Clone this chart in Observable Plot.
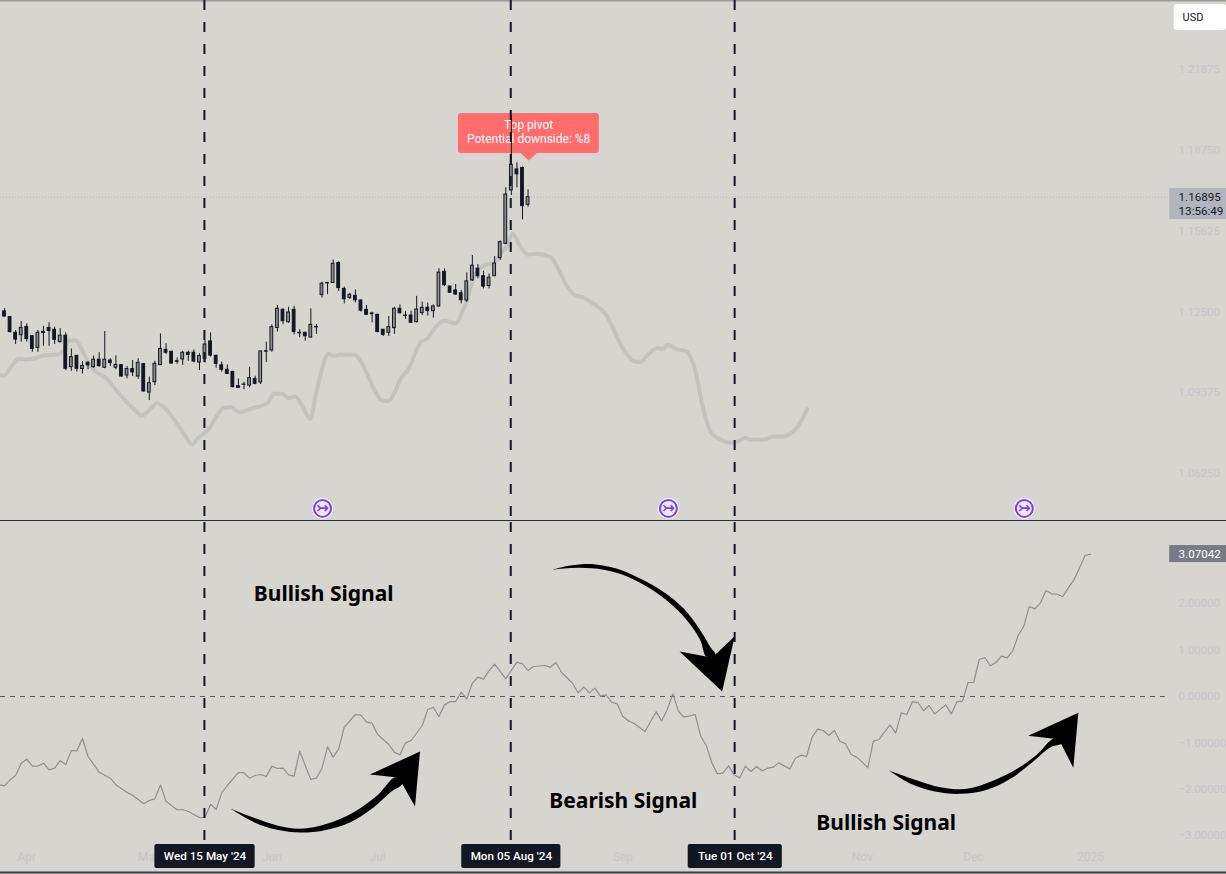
<!DOCTYPE html>
<html>
<head>
<meta charset="utf-8">
<script src="https://cdn.jsdelivr.net/npm/d3@7"></script>
<script src="https://cdn.jsdelivr.net/npm/@observablehq/plot@0.6"></script>
<style>
html,body{margin:0;padding:0;background:#d6d5d0;overflow:hidden}
svg{display:block}
</style>
</head>
<body>
<div id="top"></div>
<div id="bottom"></div>
<script>
// ---- candles (one entry per trading bar, bar index = position in the array)
const opens = [1.1248,1.1226,1.1165,1.1156,1.1188,1.1152,1.1107,1.1169,1.1184,1.1177,
1.1129,1.1154,1.1032,1.1076,1.1025,1.1049,1.1032,1.1061,1.1030,1.1058,
1.1030,1.1040,1.1000,1.1025,1.0996,1.1044,1.0934,1.0974,1.1040,1.1099,
1.1092,1.1055,1.1062,1.1088,1.1088,1.1050,1.1065,1.1132,1.1076,1.1039,
1.1022,1.1014,1.0959,1.0964,1.0961,1.0986,1.0973,1.1092,1.1097,1.1184,
1.1254,1.1206,1.1254,1.1165,1.1165,1.1147,1.1186,1.1311,1.1356,1.1358,
1.1435,1.1335,1.1300,1.1308,1.1290,1.1254,1.1240,1.1235,1.1177,1.1165,
1.1183,1.1258,1.1232,1.1232,1.1206,1.1241,1.1262,1.1249,1.1267,1.1401,
1.1344,1.1329,1.1318,1.1290,1.1368,1.1413,1.1384,1.1346,1.1384,1.1454,
1.1509,1.1716,1.1797,1.1803,1.1660];
const closes = [1.1228,1.1168,1.1139,1.1184,1.1141,1.1103,1.1165,1.1164,1.1172,1.1138,
1.1154,1.1026,1.1071,1.1026,1.1037,1.1039,1.1061,1.1036,1.1061,1.1048,
1.1041,1.0996,1.1025,1.1012,1.1049,1.0938,1.0970,1.1045,1.1103,1.1088,
1.1046,1.1053,1.1088,1.1079,1.1054,1.1075,1.1120,1.1077,1.1045,1.1022,
1.1006,1.0955,1.0952,1.0965,1.0990,1.0968,1.1093,1.1094,1.1187,1.1258,
1.1210,1.1244,1.1168,1.1163,1.1152,1.1196,1.1188,1.1355,1.1358,1.1432,
1.1338,1.1295,1.1312,1.1291,1.1251,1.1235,1.1237,1.1168,1.1157,1.1187,
1.1258,1.1241,1.1230,1.1204,1.1255,1.1262,1.1249,1.1267,1.1398,1.1349,
1.1320,1.1313,1.1291,1.1364,1.1425,1.1384,1.1344,1.1378,1.1433,1.1516,
1.1700,1.1815,1.1778,1.1655,1.16895];
const highs = [1.1258,1.1226,1.1174,1.1209,1.1200,1.1155,1.1174,1.1190,1.1204,1.1187,
1.1181,1.1165,1.1103,1.1077,1.1054,1.1054,1.1075,1.1088,1.1170,1.1065,
1.1076,1.1041,1.1035,1.1058,1.1065,1.1045,1.0994,1.1055,1.1161,1.1123,
1.1093,1.1068,1.1093,1.1094,1.1099,1.1084,1.1135,1.1165,1.1079,1.1052,
1.1041,1.1016,1.0987,1.0974,1.1032,1.0997,1.1094,1.1129,1.1196,1.1271,
1.1258,1.1264,1.1268,1.1177,1.1168,1.1258,1.1197,1.1361,1.1358,1.1447,
1.1440,1.1342,1.1318,1.1331,1.1293,1.1271,1.1245,1.1236,1.1178,1.1228,
1.1264,1.1273,1.1248,1.1249,1.1306,1.1284,1.1280,1.1273,1.1413,1.1413,
1.1346,1.1352,1.1329,1.1397,1.1464,1.1429,1.1404,1.1393,1.1460,1.1520,
1.1726,1.2010,1.1823,1.1806,1.1718];
const lows = [1.1226,1.1164,1.1120,1.1129,1.1129,1.1090,1.1090,1.1113,1.1113,1.1120,
1.1126,1.1019,1.1016,1.1013,1.1006,1.1022,1.1028,1.1032,1.1026,1.1035,
1.1022,1.0994,1.0987,1.0996,1.0985,1.0936,1.0903,1.0961,1.1039,1.1081,
1.1044,1.1043,1.1039,1.1055,1.1049,1.1019,1.1048,1.1071,1.1028,1.1013,
1.1005,1.0952,1.0951,1.0945,1.0952,1.0964,1.0965,1.1050,1.1090,1.1168,
1.1196,1.1202,1.1157,1.1146,1.1133,1.1144,1.1159,1.1299,1.1313,1.1357,
1.1325,1.1277,1.1294,1.1281,1.1245,1.1232,1.1204,1.1165,1.1151,1.1151,
1.1159,1.1237,1.1217,1.1201,1.1204,1.1232,1.1230,1.1222,1.1264,1.1344,
1.1317,1.1311,1.1277,1.1282,1.1364,1.1374,1.1335,1.1335,1.1383,1.1445,
1.1507,1.1696,1.1726,1.1602,1.1651];

// ---- grey moving-average line of the price pane (bar index, price)
const maBar = [-0.7,-0.1,1.1,2.6,3.8,5.3,7.1,9.5,10.7,11.55,12.75,13.65,15,16,18.4,19.9,21.7,23.2,24.7,25.6,27.4,28.6,30.4,32.2,33.7,34.6,36.7,38.2,39.4,40.6,42.1,44.2,47.2,48.4,49.9,51.05,52.2,53.4,54.9,55.8,57.3,58.05,59.1,60.3,
62.7,63.9,65.1,66.6,67.8,69,70.2,71.1,72.6,73.8,74.8,75.9,77.4,78.9,81,81.9,82.8,84.3,86.05,87.85,89.05,90.25,91.2,92.35,93.85,95.6,98,
99.1,100.9,102.5,103.7,105.8,107.9,110.9,113,114.1,115.7,117.2,118.1,119.1,120.8,122.1,124.1,125.25,127.05,130.65,132.1,133,133.9,136.3,138.1,139.6,142.3,144.1];
const maVal = [1.1000,1.1000,1.1032,1.1065,1.1062,1.1066,1.1077,1.1081,1.1094,1.1135,1.1135,1.1110,1.1052,1.1022,1.0987,1.0948,1.0903,1.0871,1.0845,1.0858,1.0893,1.0878,1.0832,1.0774,1.0733,1.0755,1.0794,1.0845,1.0875,1.0878,1.0858,1.0871,1.0893,1.0929,1.0929,1.0912,1.0919,1.0884,1.0832,1.0916,1.1045,1.1084,1.1075,1.1081,
1.1081,1.1058,1.1006,1.0936,1.0903,1.0901,1.0942,1.0987,1.1026,1.1090,1.1131,1.1142,1.1187,1.1213,1.1202,1.1232,1.1277,1.1380,1.1426,1.1435,1.1471,1.1503,1.1549,1.1509,1.1468,1.1471,1.1458,
1.1426,1.1348,1.1310,1.1303,1.1277,1.1239,1.1110,1.1055,1.1052,1.1084,1.1106,1.1103,1.1119,1.1101,1.1097,1.1013,1.0890,1.0774,1.0740,1.0749,1.0759,1.0751,1.0752,1.0764,1.0764,1.0800,1.0869];

// ---- oscillator of the lower pane (bar index, value)
const oscBar = [-1,0,1,2,3,4,5,6,7,8,9,10,11,12,13,14,15,17,19,20,22,23,25,26,27,28,29,31,32,33,35,36,37,38,39,40,42,43,44,45,46,47,48,49,50,51,52,53,54,55,56,57,58,59,60,61,63,64,65,66,67,69,70,71,72,73,75,
76,77,78,79,80,81,82,83,84,85,86,87,88,90,92,93,94,95,97,98,99,100,102,103,104,105,106,107,108,109,110,111,112,113,115,117,118,119,120,121,122,124,125,126,127,128,129,130,131,132,133,134,135,136,137,138,139,141,142,143,144,145,146,147,
148,149,150,151,152,153,154,155,156,157,158,159,160,161,162,163,164,165,166,167,169,170,171,172,173,174,175,176,177,178,179,180,181,182,183,184,185,186,187,188,189,190,191,192,193,194,195];
const oscVal = [-1.897,-1.925,-1.796,-1.703,-1.437,-1.351,-1.501,-1.501,-1.437,-1.580,-1.545,-1.379,-1.466,-1.164,-1.171,-0.905,-1.293,-1.631,-1.760,-1.904,-2.069,-2.126,-2.313,-2.241,-2.205,-1.904,-2.256,-2.443,-2.435,-2.478,-2.608,-2.608,-2.320,-2.435,-2.076,-1.918,-1.638,-1.645,-1.760,-1.703,-1.681,-1.724,-1.501,-1.552,-1.545,-1.688,-1.717,-1.178,-1.487,-1.789,-1.760,-1.545,-1.085,-1.307,-1.128,-0.661,-0.388,-0.402,-0.553,-0.575,-0.819,-1.034,-1.200,-1.257,-0.999,-0.948,-0.625,
-0.280,-0.230,-0.431,-0.180,-0.108,-0.108,0.093,-0.050,0.287,0.417,0.374,0.560,0.697,0.381,0.740,0.704,0.560,0.647,0.668,0.632,0.733,0.524,0.287,0.079,0.201,0.079,0.180,0.007,0.036,-0.122,-0.158,-0.424,-0.524,-0.575,-0.754,-0.330,-0.524,-0.280,0.057,-0.316,-0.445,-0.388,-0.855,-1.056,-1.430,-1.667,-1.645,-1.494,-1.688,-1.753,-1.501,-1.616,-1.509,-1.602,-1.545,-1.523,-1.430,-1.559,-1.329,-1.264,-1.293,-0.876,-0.704,-0.733,
-0.841,-0.733,-0.963,-1.020,-1.250,-1.307,-1.415,-1.537,-0.963,-0.927,-0.769,-0.611,-0.790,-0.352,-0.388,-0.115,-0.129,-0.302,-0.194,-0.374,-0.180,-0.374,-0.115,-0.101,0.302,0.302,0.797,0.841,0.661,0.733,0.869,0.833,0.977,1.315,1.516,1.940,1.889,2.019,2.284,2.213,2.205,2.155,2.342,2.514,2.766,3.039,3.07042];

// ---- tick labels
const priceTicks = [1.21875,1.1875,1.15625,1.125,1.09375,1.0625];
const oscTicks = [2,1,0,-1,-2,-3];
const monthBars = [4,26,48,67,111,154,174,195];
const monthNames = ["Apr","May","Jun","Jul","Sep","Nov","Dec","2025"];

// ---- marked dates
const eventBars = [36,91,131.2];
const eventNames = ["Wed 15 May '24","Mon 05 Aug '24","Tue 01 Oct '24"];
const eventHalf = [9,8.9,8.45];

// ---- annotations of the lower pane
const signalNames = ["Bullish Signal","Bearish Signal","Bullish Signal"];
const signalBars = [57.3,111.1,158.3];
const signalVals = [2.2,-2.25,-2.73];

// arrows: a curved tapering body and a notched head
const arrowOneBodyBar = [40.6,44.8,48.95,53.1,57.3,62.1,66.3,69.3,71.4,70.2,66.9,62.7,57.9,53.1,48.95,44.8,40.6];
const arrowOneBodyVal = [-2.421,-2.708,-2.874,-2.931,-2.888,-2.708,-2.385,-2.062,-1.882,-1.739,-2.134,-2.493,-2.744,-2.852,-2.780,-2.615,-2.421];
const arrowOneHeadBar = [71.4,73.7,74.6,65.6,70.2,71.4];
const arrowOneHeadVal = [-1.882,-2.371,-1.185,-1.681,-1.739,-1.882];
const arrowTwoBodyBar = [98.3,101.6,105.8,110,114.2,118.4,122,124.95,126.75,127.65,126,124.95,122.55,119.6,116,111.8,107.6,103.4,100.4,98.3];
const arrowTwoBodyVal = [2.730,2.823,2.852,2.751,2.536,2.249,1.889,1.422,1.063,0.905,0.862,1.207,1.638,1.997,2.320,2.586,2.730,2.773,2.759,2.730];
const arrowTwoHeadBar = [127.65,131.1,128.85,121.2,126,127.65];
const arrowTwoHeadVal = [0.905,1.300,0.108,0.970,0.862,0.905];
const arrowThreeBodyBar = [158.8,162.7,166.8,171.6,176.4,180.6,184.2,187.8,189.7,188.4,185.4,181.8,177.6,172.8,168,163.9,158.8];
const arrowThreeBodyVal = [-1.595,-1.882,-2.040,-2.098,-2.011,-1.774,-1.451,-1.092,-1.020,-0.912,-1.250,-1.559,-1.810,-1.990,-1.954,-1.810,-1.595];
const arrowThreeHeadBar = [189.7,191.9,192.8,183.8,188.4,189.7];
const arrowThreeHeadVal = [-1.020,-1.537,-0.352,-0.848,-0.912,-1.020];

// ---- session break markers
const breakBars = [57.1,119.2,183.1];

const BG = "#d6d5d0", INK = "#131722", PALE = "#c6c7cb", FONT = "Roboto";
const xDomain = [-0.718, 219.4];
const pts = (xs, ys) => xs.map((x, i) => ({x, y: ys[i]}));
const bars = d3.range(opens.length);
const fmt5 = d => d.toFixed(5).replace("-", "\u2212");
const body = (xs, ys) => Plot.line(pts(xs, ys), {x: "x", y: "y", fill: "#000", stroke: "none", curve: "catmull-rom"});
const head = (xs, ys) => Plot.line(pts(xs, ys), {x: "x", y: "y", fill: "#000", stroke: "none", curve: "linear"});

const priceTop = 1.24505, priceBottom = 1.04391;
const topPlot = Plot.plot({
  width: 1226, height: 521,
  marginTop: 0, marginLeft: 0, marginRight: 48, marginBottom: 1,
  style: {background: "transparent", fontFamily: FONT},
  x: {domain: xDomain, range: [0, 1226], axis: null},
  y: {domain: [priceBottom, priceTop], range: [520, 0]},
  marks: [
    Plot.ruleY([priceTop], {x1: xDomain[0], x2: xDomain[1], stroke: "#9a9a98", strokeWidth: 2}),
    Plot.axisY({ticks: priceTicks, anchor: "right", tickSize: 0, tickPadding: 0, tickFormat: fmt5, fill: PALE, fontSize: 11.4, dy: 1, label: null}),
    Plot.ruleY([1.16895], {x1: xDomain[0], x2: 209, stroke: "#b4b5b4", strokeDasharray: "1 2"}),
    Plot.line(pts(maBar, maVal), {x: "x", y: "y", stroke: "#c2c2be", strokeWidth: 4, curve: "monotone-x"}),
    // pivot label
    Plot.rect([0], {x1: 81.5, x2: 106.8, y1: 1.1859, y2: 1.2013, fill: "#ff6d6d", rx: 3}),
    Plot.line(pts([92.6,94.1,95.7,92.6],[1.1863,1.1832,1.1863,1.1863]), {x: "x", y: "y", fill: "#ff6d6d", stroke: "none"}),
    Plot.text(["Top pivot"], {x: 94.1, y: 1.1967, fill: "#fff", fontSize: 12}),
    Plot.text(["Potential downside: %8"], {x: 94.1, y: 1.1913, fill: "#fff", fontSize: 12}),
    // candles
    Plot.ruleX(bars, {x: i => i, y1: i => lows[i], y2: i => highs[i], stroke: INK, strokeWidth: 1}),
    Plot.rect(bars, {x1: i => i - 0.25, x2: i => i + 0.25,
      y1: i => opens[i], y2: i => closes[i],
      fill: i => closes[i] >= opens[i] ? "#8e8e8c" : INK, stroke: INK, strokeWidth: 1}),
    // event rules
    Plot.ruleX(eventBars, {dx: -0.6, y1: priceTop, y2: priceBottom, stroke: INK, strokeWidth: 2, strokeDasharray: "10 12"}),
    // horizontal pane divider
    Plot.ruleY([priceBottom], {x1: xDomain[0], x2: xDomain[1], stroke: "#2a2e39", strokeWidth: 1}),
    // session break markers
    Plot.dot(breakBars, {x: d => d, y: 1.0486, r: 10.5, fill: "#fff", stroke: "none"}),
    Plot.dot(breakBars, {x: d => d, y: 1.0486, r: 8.5, fill: "#ecebf3", stroke: "#7c3cf2", strokeWidth: 2}),
    Plot.text(breakBars, {x: d => d, y: 1.0486, text: () => "\u21A3", fill: "#7c3cf2", fontSize: 15, fontWeight: 700, fontFamily: "DejaVu Sans"}),
    // current price tag
    Plot.rect([0], {x1: 209.2, x2: xDomain[1], y1: 1.1603, y2: 1.1723, fill: "#b2b5be"}),
    Plot.text(["1.16895"], {x: 210.8, y: 1.1688, textAnchor: "start", fill: INK, fontSize: 11.6}),
    Plot.text(["13:56:49"], {x: 210.8, y: 1.1634, textAnchor: "start", fill: INK, fontSize: 11.6}),
    // currency box
    Plot.rect([0], {x1: 210, x2: xDomain[1], y1: 1.2334, y2: 1.2435, fill: "#fff", rx: 3}),
    Plot.text(["USD"], {x: 211.5, y: 1.2385, textAnchor: "start", fill: INK, fontSize: 11})
  ]
});

const oscTop = 3.772, oscBottom = -3.836;
const bottomPlot = Plot.plot({
  width: 1226, height: 353,
  marginTop: 0, marginLeft: 0, marginRight: 48, marginBottom: 25,
  style: {background: "transparent", fontFamily: FONT},
  x: {domain: xDomain, range: [0, 1226]},
  y: {domain: [oscBottom, oscTop], range: [353, 0]},
  marks: [
    Plot.axisY({ticks: oscTicks, anchor: "right", tickSize: 0, tickPadding: 0, tickFormat: fmt5, fill: PALE, fontSize: 11.4, label: null}),
    Plot.axisX({ticks: monthBars, anchor: "bottom", tickSize: 0, tickPadding: 3, fill: PALE, fontSize: 12, label: null,
      tickFormat: d => monthNames[monthBars.indexOf(d)]}),
    Plot.ruleY([0], {x1: xDomain[0], x2: 208.4, stroke: "#555a66", strokeDasharray: "5 5", strokeWidth: 1}),
    Plot.line(pts(oscBar, oscVal), {x: "x", y: "y", stroke: "#8f8f93", strokeWidth: 1.2, curve: "linear"}),
    Plot.ruleX(eventBars, {dx: -0.6, y1: oscTop - 0.02, y2: -3.17, stroke: INK, strokeWidth: 2, strokeDasharray: "10 12"}),
    body(arrowOneBodyBar, arrowOneBodyVal), head(arrowOneHeadBar, arrowOneHeadVal),
    body(arrowTwoBodyBar, arrowTwoBodyVal), head(arrowTwoHeadBar, arrowTwoHeadVal),
    body(arrowThreeBodyBar, arrowThreeBodyVal), head(arrowThreeHeadBar, arrowThreeHeadVal),
    Plot.text(signalNames, {x: (d, i) => signalBars[i], y: (d, i) => signalVals[i], fill: "#000",
      fontSize: 21, fontWeight: 700, fontFamily: "Noto Sans"}),
    Plot.rect(eventBars, {x1: (d, i) => d - eventHalf[i], x2: (d, i) => d + eventHalf[i], y1: -3.19, y2: -3.707, fill: INK, rx: 2}),
    Plot.text(eventNames, {x: (d, i) => eventBars[i], y: -3.448, fill: "#fff", fontSize: 11.7, fontWeight: 500}),
    Plot.rect([0], {x1: 209.2, x2: xDomain[1], y1: 2.887, y2: 3.254, fill: "#787b86"}),
    Plot.text(["3.07042"], {x: 210.8, y: 3.07, textAnchor: "start", fill: "#fff", fontSize: 11.6}),
    Plot.ruleY([-3.793], {x1: xDomain[0], x2: xDomain[1], stroke: "#3b3d45", strokeWidth: 2})
  ]
});

document.getElementById("top").appendChild(topPlot);
document.getElementById("bottom").appendChild(bottomPlot);
</script>
</body>
</html>
